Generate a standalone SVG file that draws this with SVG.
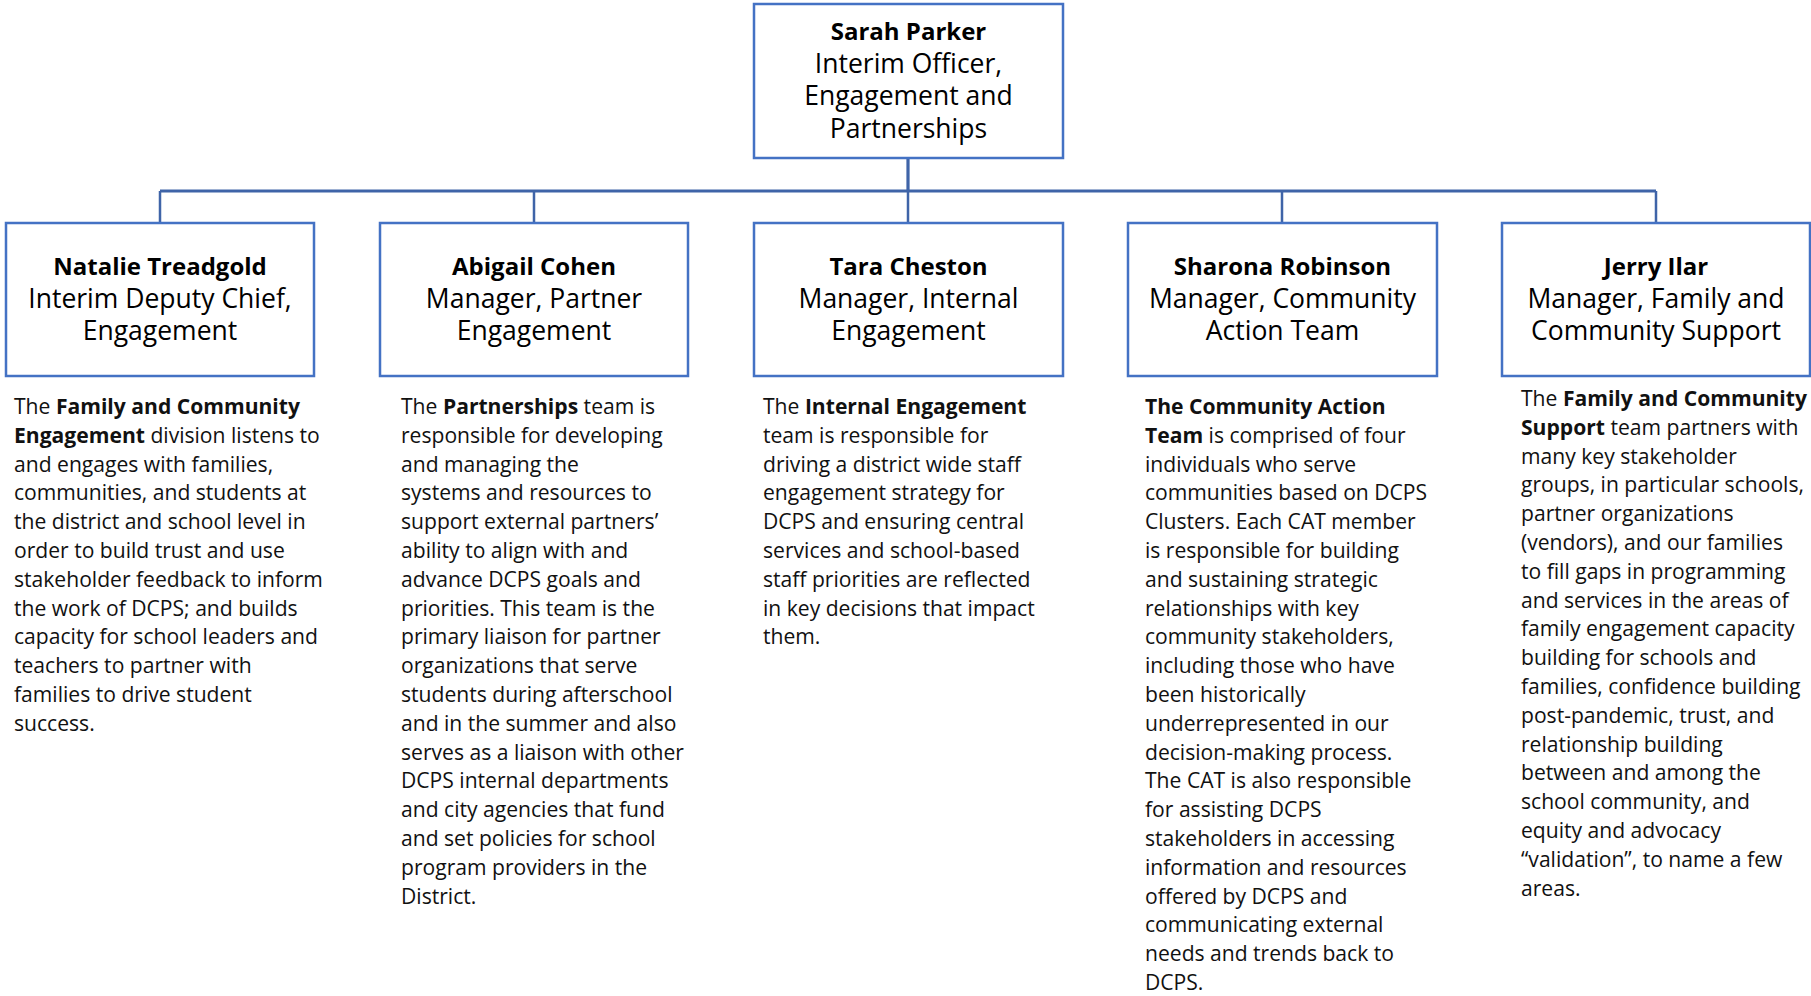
<svg xmlns="http://www.w3.org/2000/svg" width="1811" height="996" viewBox="0 0 1811 996">
<style>
.box{fill:#fff;stroke:#4472C4;stroke-width:2.5}
.conn{fill:none;stroke:#3F64A8;stroke-width:2.5}
.trunk{stroke-width:3.2}
.t{font-family:"Open Sans","Liberation Sans",sans-serif;font-size:26.5px;fill:#000;text-anchor:middle}
.t .b{font-size:24px}
.b{font-weight:bold}
.d{font-family:"Open Sans","Liberation Sans",sans-serif;font-size:21.1px;fill:#111}
</style>
<rect width="1811" height="996" fill="#fff"/>
<g id="connectors">
<path class="conn trunk" d="M908,158 V191 M160,191 H1656"/>
<path class="conn" d="M160,191 V223 M534,191 V223 M908,191 V223 M1282,191 V223 M1656,191 V223"/>
</g>
<g id="sarah-parker">
<rect class="box" x="754" y="4" width="309" height="154"/>
<text class="t"><tspan class="b" x="908.5" y="40">Sarah Parker</tspan><tspan x="908.5" y="72.5">Interim Officer,</tspan><tspan x="908.5" y="105">Engagement and</tspan><tspan x="908.5" y="137.5">Partnerships</tspan></text>
</g>
<g id="natalie-treadgold">
<rect class="box" x="6" y="223" width="308" height="153"/>
<text class="t"><tspan class="b" x="160" y="275">Natalie Treadgold</tspan><tspan x="160" y="307.5">Interim Deputy Chief,</tspan><tspan x="160" y="340">Engagement</tspan></text>
<text class="d"><tspan x="14" y="414">The <tspan class="b">Family and Community</tspan></tspan><tspan x="14" y="442.8"><tspan class="b">Engagement</tspan> division listens to</tspan><tspan x="14" y="471.6">and engages with families,</tspan><tspan x="14" y="500.4">communities, and students at</tspan><tspan x="14" y="529.2">the district and school level in</tspan><tspan x="14" y="558">order to build trust and use</tspan><tspan x="14" y="586.8">stakeholder feedback to inform</tspan><tspan x="14" y="615.6">the work of DCPS; and builds</tspan><tspan x="14" y="644.4">capacity for school leaders and</tspan><tspan x="14" y="673.2">teachers to partner with</tspan><tspan x="14" y="702">families to drive student</tspan><tspan x="14" y="730.8">success.</tspan></text>
</g>
<g id="abigail-cohen">
<rect class="box" x="380" y="223" width="308" height="153"/>
<text class="t"><tspan class="b" x="534" y="275">Abigail Cohen</tspan><tspan x="534" y="307.5">Manager, Partner</tspan><tspan x="534" y="340">Engagement</tspan></text>
<text class="d"><tspan x="401" y="414">The <tspan class="b">Partnerships</tspan> team is</tspan><tspan x="401" y="442.8">responsible for developing</tspan><tspan x="401" y="471.6">and managing the</tspan><tspan x="401" y="500.4">systems and resources to</tspan><tspan x="401" y="529.2">support external partners’</tspan><tspan x="401" y="558">ability to align with and</tspan><tspan x="401" y="586.8">advance DCPS goals and</tspan><tspan x="401" y="615.6">priorities. This team is the</tspan><tspan x="401" y="644.4">primary liaison for partner</tspan><tspan x="401" y="673.2">organizations that serve</tspan><tspan x="401" y="702">students during afterschool</tspan><tspan x="401" y="730.8">and in the summer and also</tspan><tspan x="401" y="759.6">serves as a liaison with other</tspan><tspan x="401" y="788.4">DCPS internal departments</tspan><tspan x="401" y="817.2">and city agencies that fund</tspan><tspan x="401" y="846">and set policies for school</tspan><tspan x="401" y="874.8">program providers in the</tspan><tspan x="401" y="903.6">District.</tspan></text>
</g>
<g id="tara-cheston">
<rect class="box" x="754" y="223" width="309" height="153"/>
<text class="t"><tspan class="b" x="908.5" y="275">Tara Cheston</tspan><tspan x="908.5" y="307.5">Manager, Internal</tspan><tspan x="908.5" y="340">Engagement</tspan></text>
<text class="d"><tspan x="763" y="414">The <tspan class="b">Internal Engagement</tspan></tspan><tspan x="763" y="442.8">team is responsible for</tspan><tspan x="763" y="471.6">driving a district wide staff</tspan><tspan x="763" y="500.4">engagement strategy for</tspan><tspan x="763" y="529.2">DCPS and ensuring central</tspan><tspan x="763" y="558">services and school-based</tspan><tspan x="763" y="586.8">staff priorities are reflected</tspan><tspan x="763" y="615.6">in key decisions that impact</tspan><tspan x="763" y="644.4">them.</tspan></text>
</g>
<g id="sharona-robinson">
<rect class="box" x="1128" y="223" width="309" height="153"/>
<text class="t"><tspan class="b" x="1282.5" y="275">Sharona Robinson</tspan><tspan x="1282.5" y="307.5">Manager, Community</tspan><tspan x="1282.5" y="340">Action Team</tspan></text>
<text class="d"><tspan x="1145" y="414" class="b">The Community Action</tspan><tspan x="1145" y="442.8"><tspan class="b">Team</tspan> is comprised of four</tspan><tspan x="1145" y="471.6">individuals who serve</tspan><tspan x="1145" y="500.4">communities based on DCPS</tspan><tspan x="1145" y="529.2">Clusters. Each CAT member</tspan><tspan x="1145" y="558">is responsible for building</tspan><tspan x="1145" y="586.8">and sustaining strategic</tspan><tspan x="1145" y="615.6">relationships with key</tspan><tspan x="1145" y="644.4">community stakeholders,</tspan><tspan x="1145" y="673.2">including those who have</tspan><tspan x="1145" y="702">been historically</tspan><tspan x="1145" y="730.8">underrepresented in our</tspan><tspan x="1145" y="759.6">decision-making process.</tspan><tspan x="1145" y="788.4">The CAT is also responsible</tspan><tspan x="1145" y="817.2">for assisting DCPS</tspan><tspan x="1145" y="846">stakeholders in accessing</tspan><tspan x="1145" y="874.8">information and resources</tspan><tspan x="1145" y="903.6">offered by DCPS and</tspan><tspan x="1145" y="932.4">communicating external</tspan><tspan x="1145" y="961.2">needs and trends back to</tspan><tspan x="1145" y="990">DCPS.</tspan></text>
</g>
<g id="jerry-ilar">
<rect class="box" x="1502" y="223" width="308" height="153"/>
<text class="t"><tspan class="b" x="1656" y="275">Jerry Ilar</tspan><tspan x="1656" y="307.5">Manager, Family and</tspan><tspan x="1656" y="340">Community Support</tspan></text>
<text class="d"><tspan x="1521" y="406">The <tspan class="b">Family and Community</tspan></tspan><tspan x="1521" y="434.8"><tspan class="b">Support</tspan> team partners with</tspan><tspan x="1521" y="463.6">many key stakeholder</tspan><tspan x="1521" y="492.4">groups, in particular schools,</tspan><tspan x="1521" y="521.2">partner organizations</tspan><tspan x="1521" y="550">(vendors), and our families</tspan><tspan x="1521" y="578.8">to fill gaps in programming</tspan><tspan x="1521" y="607.6">and services in the areas of</tspan><tspan x="1521" y="636.4">family engagement capacity</tspan><tspan x="1521" y="665.2">building for schools and</tspan><tspan x="1521" y="694">families, confidence building</tspan><tspan x="1521" y="722.8">post-pandemic, trust, and</tspan><tspan x="1521" y="751.6">relationship building</tspan><tspan x="1521" y="780.4">between and among the</tspan><tspan x="1521" y="809.2">school community, and</tspan><tspan x="1521" y="838">equity and advocacy</tspan><tspan x="1521" y="866.8">“validation”, to name a few</tspan><tspan x="1521" y="895.6">areas.</tspan></text>
</g>
</svg>
